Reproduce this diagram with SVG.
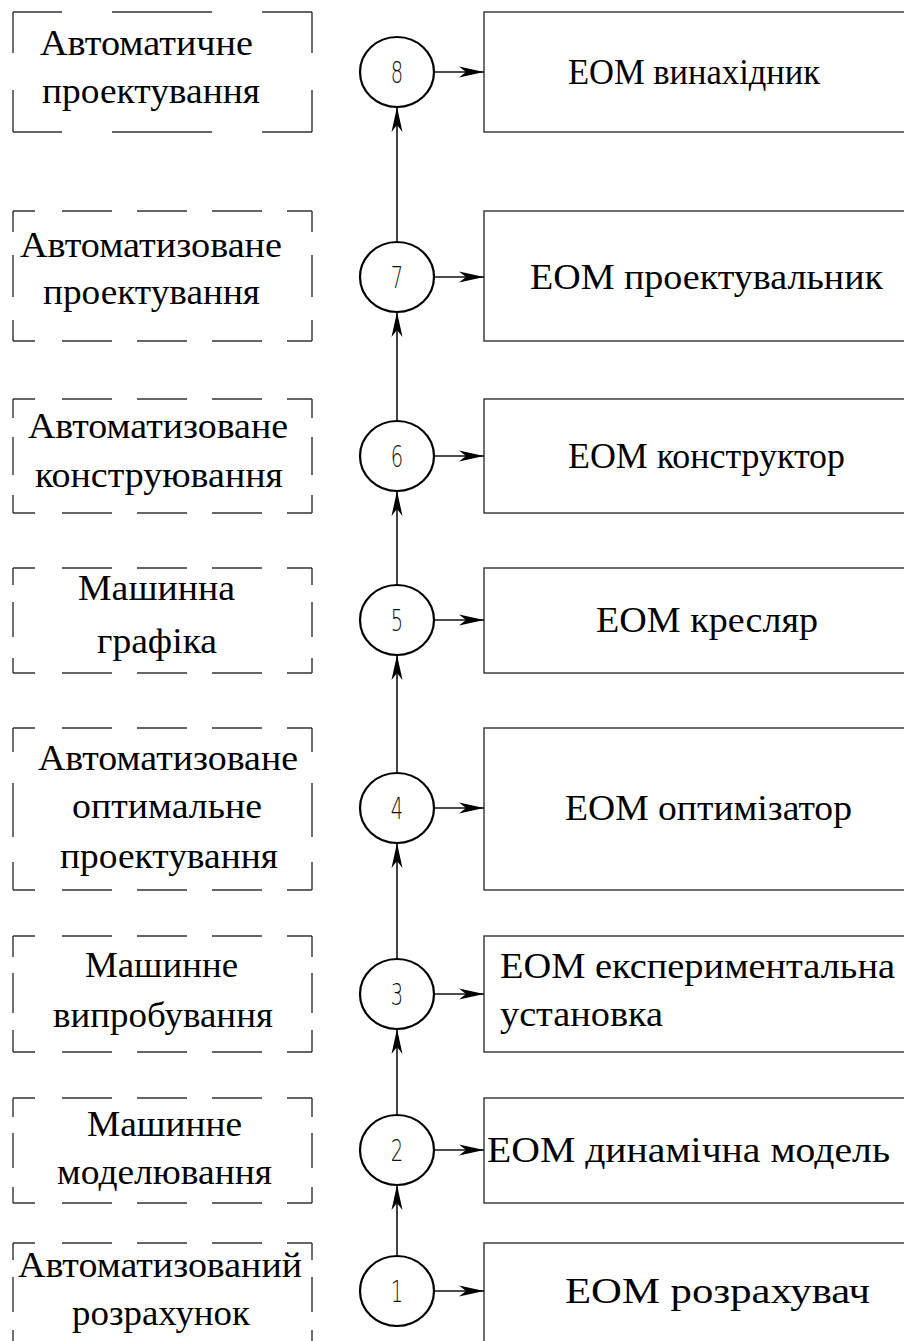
<svg xmlns="http://www.w3.org/2000/svg" width="904" height="1341" viewBox="0 0 904 1341">
<style>
  .dash{fill:none;stroke:#333;stroke-width:1.4}
  .box{fill:#fff;stroke:#333;stroke-width:1.4}
  .circ{fill:#fff;stroke:#000;stroke-width:2.2}
  .conn{fill:none;stroke:#111;stroke-width:1.6}
  .num{font-family:'DejaVu Sans',sans-serif;font-weight:200;font-size:30px;fill:#111;text-anchor:middle}
</style>
<defs>
  <marker id="arr" markerUnits="userSpaceOnUse" markerWidth="30" markerHeight="16" viewBox="-26 -8 28 16" refX="0" refY="0" orient="auto">
    <path d="M0,0 L-25,-5.5 L-18,0 L-25,5.5 Z" fill="#000"/>
  </marker>
</defs>

<g font-family="'Liberation Serif', 'Times New Roman', serif" font-size="36" fill="#000" lengthAdjust="spacingAndGlyphs">
<g id="left8">
  <path class="dash" d="M13,12H62M112,12H212M262,12H312M13,132H62M112,132H212M262,132H312M13,12V53M13,90V132M312,12V53M312,90V132"/>
  <text x="40" y="55" textLength="213" lengthAdjust="spacingAndGlyphs">Автоматичне</text>
  <text x="42" y="103" textLength="218" lengthAdjust="spacingAndGlyphs">проектування</text>
</g>
<g id="left7" text-anchor="middle">
  <path class="dash" d="M13,211H35M62,211H112M137,211H187M212,211H262M287,211H312M13,341H35M62,341H112M137,341H187M212,341H262M287,341H312M13,211V232M13,255V297M13,320V341M312,211V232M312,255V297M312,320V341"/>
  <text x="151" y="257" textLength="262" lengthAdjust="spacingAndGlyphs">Автоматизоване</text>
  <text x="151.5" y="304" textLength="217" lengthAdjust="spacingAndGlyphs">проектування</text>
</g>
<g id="left6" text-anchor="middle">
  <path class="dash" d="M13,399H35M62,399H112M137,399H187M212,399H262M287,399H312M13,513H35M62,513H112M137,513H187M212,513H262M287,513H312M13,399V418M13,437V475M13,495V513M312,399V418M312,437V475M312,495V513"/>
  <text x="158" y="438" textLength="260" lengthAdjust="spacingAndGlyphs">Автоматизоване</text>
  <text x="159" y="487" textLength="248" lengthAdjust="spacingAndGlyphs">конструювання</text>
</g>
<g id="left5" text-anchor="middle">
  <path class="dash" d="M13,568H35M62,568H112M137,568H187M212,568H262M287,568H312M13,673H35M62,673H112M137,673H187M212,673H262M287,673H312M13,568V585M13,602V637M13,658V673M312,568V585M312,602V637M312,658V673"/>
  <text x="156.5" y="600" textLength="157" lengthAdjust="spacingAndGlyphs">Машинна</text>
  <text x="157" y="653" textLength="120" lengthAdjust="spacingAndGlyphs">графіка</text>
</g>
<g id="left4" text-anchor="middle">
  <path class="dash" d="M13,728H35M62,728H112M137,728H187M212,728H262M287,728H312M13,890H35M62,890H112M137,890H187M212,890H262M287,890H312M13,728V752M13,783V837M13,862V890M312,728V752M312,783V837M312,862V890"/>
  <text x="168" y="770" textLength="260" lengthAdjust="spacingAndGlyphs">Автоматизоване</text>
  <text x="167" y="818" textLength="190" lengthAdjust="spacingAndGlyphs">оптимальне</text>
  <text x="169" y="868" textLength="218" lengthAdjust="spacingAndGlyphs">проектування</text>
</g>
<g id="left3" text-anchor="middle">
  <path class="dash" d="M13,936H35M62,936H112M137,936H187M212,936H262M287,936H312M13,1052H35M62,1052H112M137,1052H187M212,1052H262M287,1052H312M13,936V957M13,973V1013M13,1030V1052M312,936V957M312,973V1013M312,1030V1052"/>
  <text x="161.5" y="977" textLength="153" lengthAdjust="spacingAndGlyphs">Машинне</text>
  <text x="163" y="1027" textLength="220" lengthAdjust="spacingAndGlyphs">випробування</text>
</g>
<g id="left2" text-anchor="middle">
  <path class="dash" d="M13,1098H35M62,1098H112M137,1098H187M212,1098H262M287,1098H312M13,1203H35M62,1203H112M137,1203H187M212,1203H262M287,1203H312M13,1098V1117M13,1133V1168M13,1187V1203M312,1098V1117M312,1133V1168M312,1187V1203"/>
  <text x="164.5" y="1136" textLength="155" lengthAdjust="spacingAndGlyphs">Машинне</text>
  <text x="164.5" y="1184" textLength="215" lengthAdjust="spacingAndGlyphs">моделювання</text>
</g>
<g id="left1" text-anchor="middle">
  <path class="dash" d="M13,1243H35M62,1243H112M137,1243H187M212,1243H262M287,1243H312M13,1243V1260M13,1277V1312M13,1330V1345M312,1243V1260M312,1277V1312M312,1330V1345"/>
  <text x="160" y="1277" textLength="284" lengthAdjust="spacingAndGlyphs">Автоматизований</text>
  <text x="161" y="1325" textLength="178" lengthAdjust="spacingAndGlyphs">розрахунок</text>
</g>

<g id="right8" text-anchor="middle"><rect class="box" x="484" y="12" width="450" height="120"/><text x="694" y="84" textLength="252" lengthAdjust="spacingAndGlyphs">ЕОМ винахідник</text></g>
<g id="right7" text-anchor="middle"><rect class="box" x="484" y="211" width="450" height="130"/><text x="706.5" y="289" textLength="353" lengthAdjust="spacingAndGlyphs">ЕОМ проектувальник</text></g>
<g id="right6" text-anchor="middle"><rect class="box" x="484" y="399" width="450" height="114"/><text x="706.5" y="468" textLength="277" lengthAdjust="spacingAndGlyphs">ЕОМ конструктор</text></g>
<g id="right5" text-anchor="middle"><rect class="box" x="484" y="568" width="450" height="105"/><text x="707" y="632" textLength="222" lengthAdjust="spacingAndGlyphs">ЕОМ кресляр</text></g>
<g id="right4" text-anchor="middle"><rect class="box" x="484" y="728" width="450" height="162"/><text x="708.5" y="820" textLength="287" lengthAdjust="spacingAndGlyphs">ЕОМ оптимізатор</text></g>
<g id="right3"><rect class="box" x="484" y="936" width="450" height="116"/><text x="500" y="978" textLength="395" lengthAdjust="spacingAndGlyphs">ЕОМ експериментальна</text><text x="500" y="1026" textLength="163" lengthAdjust="spacingAndGlyphs">установка</text></g>
<g id="right2" text-anchor="middle"><rect class="box" x="484" y="1098" width="450" height="105"/><text x="688.5" y="1162" textLength="403" lengthAdjust="spacingAndGlyphs">ЕОМ динамічна модель</text></g>
<g id="right1" text-anchor="middle"><rect class="box" x="484" y="1243" width="450" height="110"/><text x="717.5" y="1303" textLength="305" lengthAdjust="spacingAndGlyphs">ЕОМ розрахувач</text></g>
</g>

<g id="connectors">
  <path class="conn" marker-end="url(#arr)" d="M397,1256V1185"/>
  <path class="conn" marker-end="url(#arr)" d="M397,1115V1029"/>
  <path class="conn" marker-end="url(#arr)" d="M397,959V843"/>
  <path class="conn" marker-end="url(#arr)" d="M397,773V655"/>
  <path class="conn" marker-end="url(#arr)" d="M397,585V491"/>
  <path class="conn" marker-end="url(#arr)" d="M397,421V312"/>
  <path class="conn" marker-end="url(#arr)" d="M397,242V107"/>
  <path class="conn" marker-end="url(#arr)" d="M434,1291H484"/>
  <path class="conn" marker-end="url(#arr)" d="M434,1150H484"/>
  <path class="conn" marker-end="url(#arr)" d="M434,994H484"/>
  <path class="conn" marker-end="url(#arr)" d="M434,808H484"/>
  <path class="conn" marker-end="url(#arr)" d="M434,620H484"/>
  <path class="conn" marker-end="url(#arr)" d="M434,456H484"/>
  <path class="conn" marker-end="url(#arr)" d="M434,277H484"/>
  <path class="conn" marker-end="url(#arr)" d="M434,72H484"/>
</g>

<g id="c1"><ellipse class="circ" cx="397" cy="1291" rx="37" ry="35"/><text class="num" transform="translate(397,1302) scale(0.65,1)">1</text></g>
<g id="c2"><ellipse class="circ" cx="397" cy="1150" rx="37" ry="35"/><text class="num" transform="translate(397,1161) scale(0.65,1)">2</text></g>
<g id="c3"><ellipse class="circ" cx="397" cy="994" rx="37" ry="35"/><text class="num" transform="translate(397,1005) scale(0.65,1)">3</text></g>
<g id="c4"><ellipse class="circ" cx="397" cy="808" rx="37" ry="35"/><text class="num" transform="translate(397,819) scale(0.65,1)">4</text></g>
<g id="c5"><ellipse class="circ" cx="397" cy="620" rx="37" ry="35"/><text class="num" transform="translate(397,631) scale(0.65,1)">5</text></g>
<g id="c6"><ellipse class="circ" cx="397" cy="456" rx="37" ry="35"/><text class="num" transform="translate(397,467) scale(0.65,1)">6</text></g>
<g id="c7"><ellipse class="circ" cx="397" cy="277" rx="37" ry="35"/><text class="num" transform="translate(397,288) scale(0.65,1)">7</text></g>
<g id="c8"><ellipse class="circ" cx="397" cy="72" rx="37" ry="35"/><text class="num" transform="translate(397,83) scale(0.65,1)">8</text></g>
</svg>
